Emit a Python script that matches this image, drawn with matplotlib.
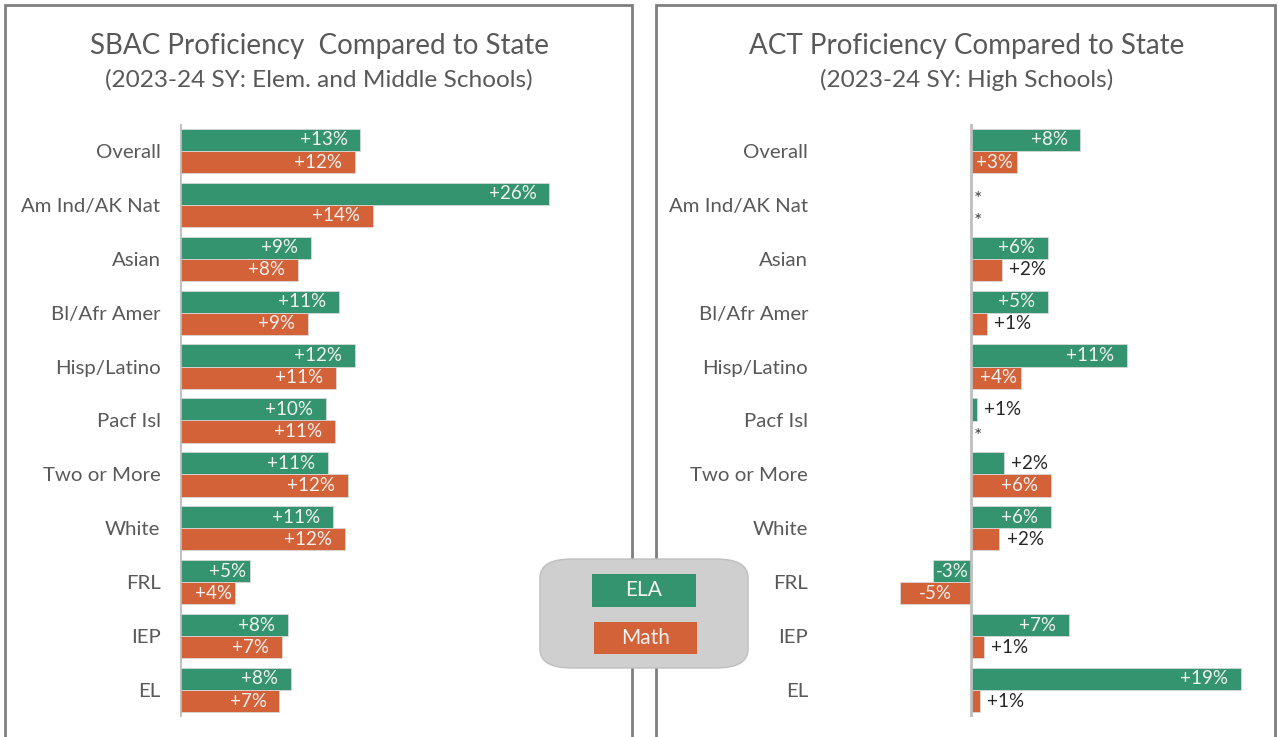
import numpy as np
import matplotlib.pyplot as plt
from matplotlib.patches import Rectangle, FancyBboxPatch

plt.rcParams['font.family'] = ['Lato', 'DejaVu Sans']

# data
categories = ['Overall', 'Am Ind/AK Nat', 'Asian', 'Bl/Afr Amer', 'Hisp/Latino',
              'Pacf Isl', 'Two or More', 'White', 'FRL', 'IEP', 'EL']

sbac_ela = [12.7, 26.0, 9.2, 11.2, 12.3, 10.3, 10.4, 10.8, 4.9, 7.6, 7.8]
sbac_math = [12.3, 13.6, 8.3, 9.0, 11.0, 10.9, 11.8, 11.6, 3.9, 7.2, 7.0]
sbac_ela_lbl = ['+13%', '+26%', '+9%', '+11%', '+12%', '+10%', '+11%', '+11%', '+5%', '+8%', '+8%']
sbac_math_lbl = ['+12%', '+14%', '+8%', '+9%', '+11%', '+11%', '+12%', '+12%', '+4%', '+7%', '+7%']

act_ela = [7.7, np.nan, 5.4, 5.4, 11.0, 0.4, 2.3, 5.6, -2.7, 6.9, 19.0]
act_math = [3.2, np.nan, 2.2, 1.1, 3.5, np.nan, 5.6, 2.0, -5.0, 0.9, 0.6]
act_ela_lbl = ['+8%', '*', '+6%', '+5%', '+11%', '+1%', '+2%', '+6%', '-3%', '+7%', '+19%']
act_math_lbl = ['+3%', '*', '+2%', '+1%', '+4%', '*', '+6%', '+2%', '-5%', '+1%', '+1%']

GREEN = '#33946f'
ORANGE = '#d46239'
GRAY_TXT = '#595959'

W, H = 1279, 737
fig = plt.figure(figsize=(W / 100, H / 100), dpi=100)


def px_axes(x0, y0, x1, y1):
    # pixel box (top-left origin) -> figure axes
    return fig.add_axes([x0 / W, 1 - y1 / H, (x1 - x0) / W, (y1 - y0) / H])


def draw_bars(ax, ela, math, ela_lbl, math_lbl, xlim, pad):
    y = np.arange(len(categories))
    h = 0.41
    for vals, lbls, col, off in [(ela, ela_lbl, GREEN, -h / 2), (math, math_lbl, ORANGE, h / 2)]:
        for yi, v, lb in zip(y, vals, lbls):
            if np.isnan(v):
                ax.text(0.2, yi + off + 0.1, lb, ha='left', va='center', fontsize=14, color='#404040')
                continue
            ax.barh(yi + off, v, height=h, color=col, edgecolor='#d9d9d9', linewidth=0.6)
            if v < 0:
                ax.text(v / 2, yi + off, lb, ha='center', va='center', fontsize=13.5, color='#f2f2f2')
            elif v >= 2.5:
                inset = 0.9 if v >= 5 else 0.25
                ax.text(v - inset, yi + off, lb, ha='right', va='center', fontsize=13.5, color='#f2f2f2')
            else:
                ax.text(v + 0.5, yi + off, lb, ha='left', va='center', fontsize=13.5, color='#262626')
    ax.axvline(0, color='#bfbfbf', lw=2, zorder=3)
    ax.set_xlim(*xlim)
    ax.set_ylim(len(categories) - 0.5, -0.5)
    ax.set_yticks(y)
    ax.set_yticklabels(categories, fontsize=14.7, color=GRAY_TXT)
    ax.tick_params(axis='y', length=0, pad=pad)
    ax.set_xticks([])
    for s in ax.spines.values():
        s.set_visible(False)
    ax.patch.set_alpha(0)


# panel frames
fig.patches.append(Rectangle((5 / W, -0.05), (632 - 5) / W, 1.05 - 5 / H, transform=fig.transFigure,
                             fill=False, edgecolor='#7f7f7f', lw=2))
fig.patches.append(Rectangle((656 / W, -0.05), (1275 - 656) / W, 1.05 - 5 / H, transform=fig.transFigure,
                             fill=False, edgecolor='#7f7f7f', lw=2))

ax1 = px_axes(180, 124, 606, 717)
draw_bars(ax1, sbac_ela, sbac_math, sbac_ela_lbl, sbac_math_lbl, (0, 30), 14)

ax2 = px_axes(886, 124, 1269, 717)
draw_bars(ax2, act_ela, act_math, act_ela_lbl, act_math_lbl, (-6, 21), 56)

# titles
fig.text(319 / W, 1 - 46 / H, 'SBAC Proficiency  Compared to State', ha='center', va='center',
         fontsize=20, color=GRAY_TXT)
fig.text(319 / W, 1 - 80 / H, '(2023-24 SY: Elem. and Middle Schools)', ha='center', va='center',
         fontsize=17.6, color=GRAY_TXT)
fig.text(967 / W, 1 - 46 / H, 'ACT Proficiency Compared to State', ha='center', va='center',
         fontsize=20, color=GRAY_TXT)
fig.text(967 / W, 1 - 80 / H, '(2023-24 SY: High Schools)', ha='center', va='center',
         fontsize=17.6, color=GRAY_TXT)

# legend box
fig.patches.append(FancyBboxPatch((540 / W, 1 - 668 / H), (748 - 540) / W, (668 - 559) / H,
                                  boxstyle='round,pad=0,rounding_size=0.025', transform=fig.transFigure,
                                  facecolor='#d0cfcf', edgecolor='#bfbfbf', lw=1, zorder=5))
for (x0, y0, x1, y1), col, txt in [((592, 574, 696, 607), GREEN, 'ELA'),
                                   ((594, 622, 697, 654), ORANGE, 'Math')]:
    fig.patches.append(Rectangle((x0 / W, 1 - y1 / H), (x1 - x0) / W, (y1 - y0) / H,
                                 transform=fig.transFigure, facecolor=col, edgecolor='none', zorder=6))
    fig.text((x0 + x1) / 2 / W, 1 - (y0 + y1) / 2 / H, txt, ha='center', va='center',
             fontsize=15, color='#f2f2f2', zorder=7)

fig.savefig('out.png', dpi=100, facecolor='white')
